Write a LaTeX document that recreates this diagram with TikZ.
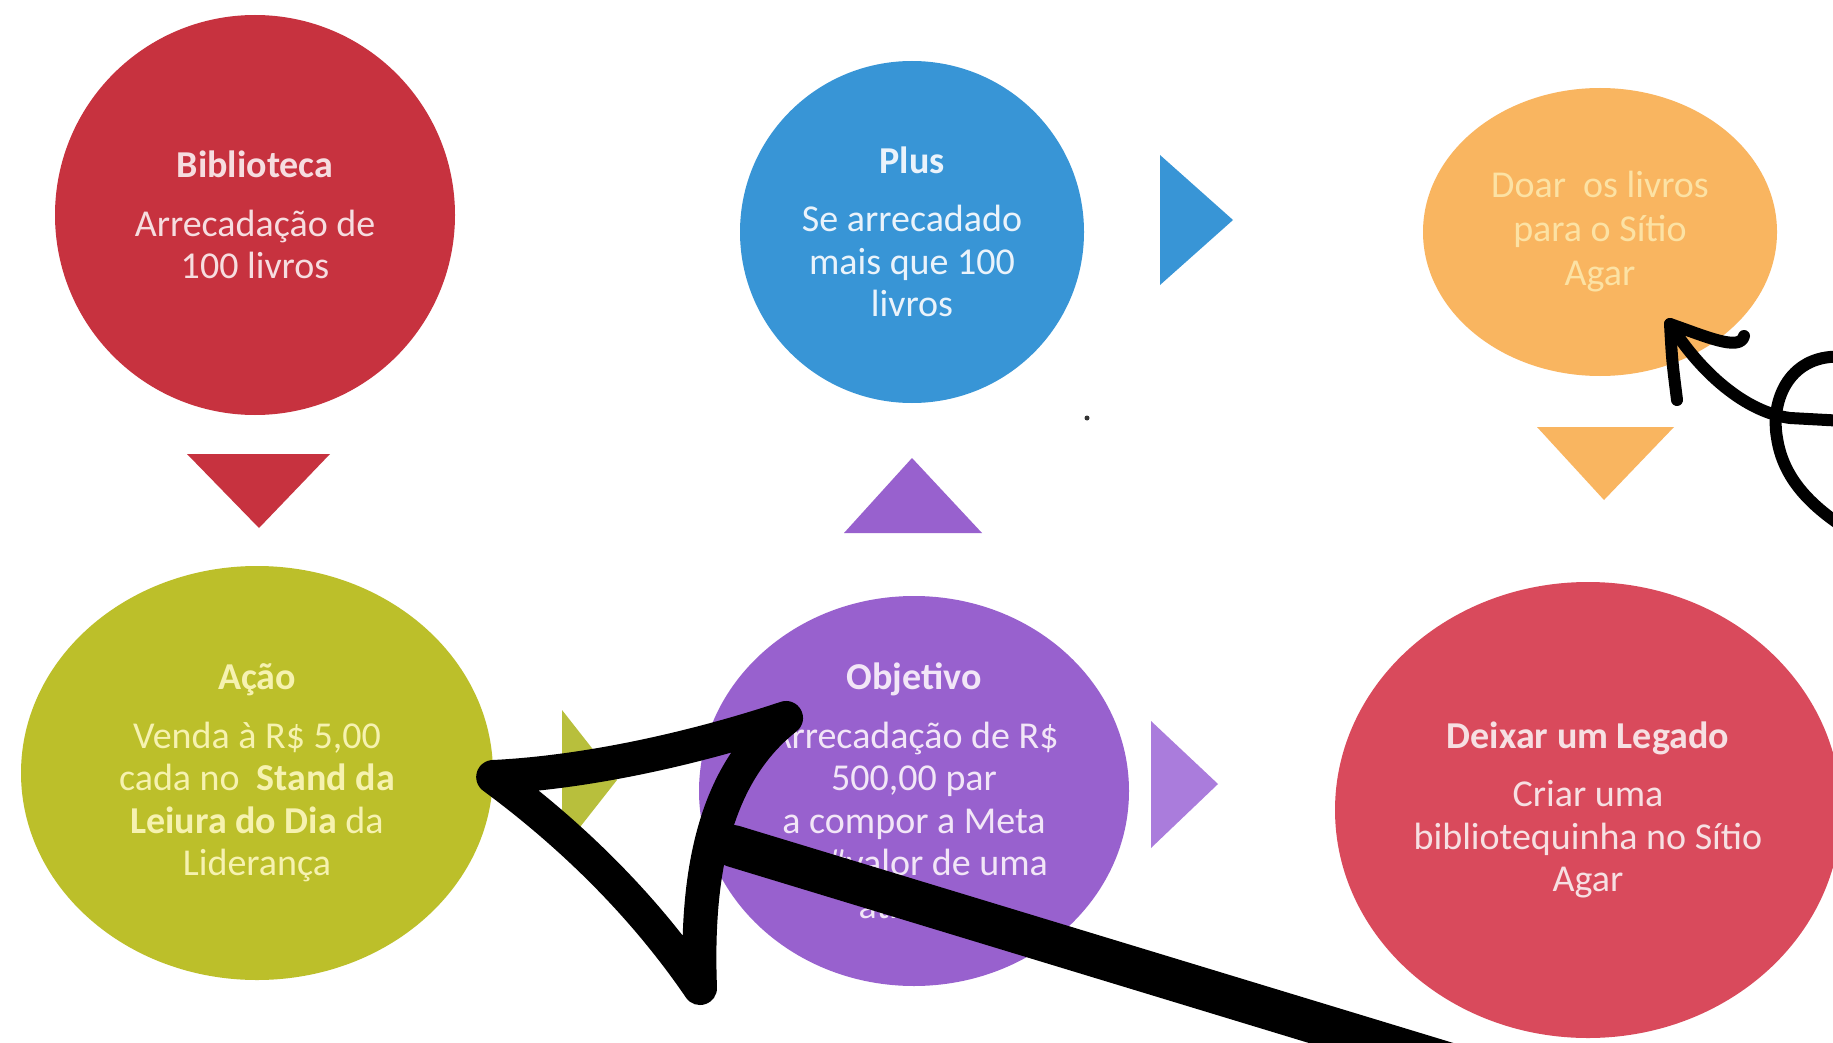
\documentclass[tikz,border=0pt]{standalone}
\usepackage{fontspec}
\setmainfont{Carlito}
\usetikzlibrary{shapes.geometric,calc}
\definecolor{cBib}{RGB}{199,50,63}
\definecolor{cAcao}{RGB}{188,191,42}
\definecolor{cAcaoTri}{RGB}{184,191,60}
\definecolor{cPlus}{RGB}{56,149,214}
\definecolor{cObj}{RGB}{152,97,206}
\definecolor{cObjTri}{RGB}{170,124,220}
\definecolor{cDoar}{RGB}{249,181,96}
\definecolor{cDeix}{RGB}{217,74,92}
\definecolor{tBib}{RGB}{246,221,224}
\definecolor{tAcao}{RGB}{246,242,176}
\definecolor{tPlus}{RGB}{234,243,251}
\definecolor{tObj}{RGB}{242,230,247}
\definecolor{tDoar}{RGB}{252,226,164}
\definecolor{tDeix}{RGB}{246,224,227}
\begin{document}
\begin{tikzpicture}[x=1pt,y=-1pt,
  bubble/.style={ellipse, inner sep=0pt, align=center,
    font=\fontsize{38}{42.5}\selectfont},
  bigpen/.style={line width=34pt, line cap=round, line join=round, black},
  shaftpen/.style={line width=42pt, line cap=round, black},
  smallpen/.style={line width=12pt, line cap=round, line join=round, black}]
\useasboundingbox (0,0) rectangle (1833,1043);
\fill[white] (0,0) rectangle (1833,1043);
\begin{scope}
\clip (0,0) rectangle (1833,1043);

% circles
\node[bubble, fill=cBib, text=tBib, minimum width=400pt, minimum height=400pt]
  (bib) at (255,215) {\textbf{Biblioteca}\\[16pt]Arrecadação de\\100 livros};
\node[bubble, fill=cPlus, text=tPlus, minimum width=344pt, minimum height=342pt]
  (plus) at (912,232) {\textbf{Plus}\\[16pt]Se arrecadado\\mais que 100\\livros};
\node[bubble, fill=cDoar, text=tDoar, minimum width=354pt, minimum height=288pt,
  font=\fontsize{38}{44}\selectfont]
  (doar) at (1600,232) {Doar~~os livros\\para o Sítio\\Agar};
\node[bubble, fill=cAcao, text=tAcao, minimum width=472pt, minimum height=414pt]
  (acao) at (257,773) {\textbf{Ação}\\[16pt]Venda à R\$ 5,00\\cada no~ \textbf{Stand da}\\\textbf{Leiura do Dia} da\\Liderança};
\node[bubble, fill=cObj, text=tObj, minimum width=430pt, minimum height=390pt]
  (obj) at (914,791) {\textbf{Objetivo}\\[16pt]Arrecadação de R\$\\500,00 par\\a compor a Meta\\de \#valor de uma\\atitude};
\node[bubble, fill=cDeix, text=tDeix, minimum width=506pt, minimum height=456pt]
  (deix) at (1588,810) {\textbf{Deixar um Legado}\\[16pt]Criar uma\\bibliotequinha no Sítio\\Agar};

% triangles
\fill[cBib] (187,454) -- (330,454) -- (259,528) -- cycle;
\fill[cAcaoTri] (562,710) -- (562,850) -- (617,780) -- cycle;
\fill[cPlus] (1160,155) -- (1160,285) -- (1233,220) -- cycle;
\fill[cObj] (844,533) -- (982,533) -- (912,458) -- cycle;
\fill[cObjTri] (1151,721) -- (1151,848) -- (1218,784) -- cycle;
\fill[cDoar] (1537,427) -- (1674,427) -- (1604,500) -- cycle;

% speck
\fill[black!80] (1087,418) circle (2.5);

% big hand-drawn arrow
\coordinate (bigTip) at ($(acao.east)+(0,4)$);
\coordinate (bigU) at (786,718);
\coordinate (bigL) at (700,988);
\coordinate (bigS) at (733,846);
\coordinate (bigEnd) at (1470,1070);
\draw[bigpen] (bigTip) .. controls (595,772) and (705,745) .. (bigU)
  .. controls (720,770) and (695,860) .. (bigL)
  .. controls (640,900) and (565,830) .. (bigTip);
\draw[shaftpen] (bigS) -- (bigEnd);

% small hand-drawn arrow
\coordinate (smallTip) at (1670,324);
\draw[smallpen] (1744,336) .. controls (1740,352) and (1705,336) .. (smallTip)
  .. controls (1672,360) .. (1677,400);
\draw[smallpen] (smallTip) .. controls (1700,372) and (1745,412) .. (1790,418) -- (1845,421);
\draw[smallpen] (1845,357) .. controls (1790,352) and (1770,400) .. (1777,438)
  .. controls (1783,478) and (1810,505) .. (1845,528);
\end{scope}
\end{tikzpicture}
\end{document}
